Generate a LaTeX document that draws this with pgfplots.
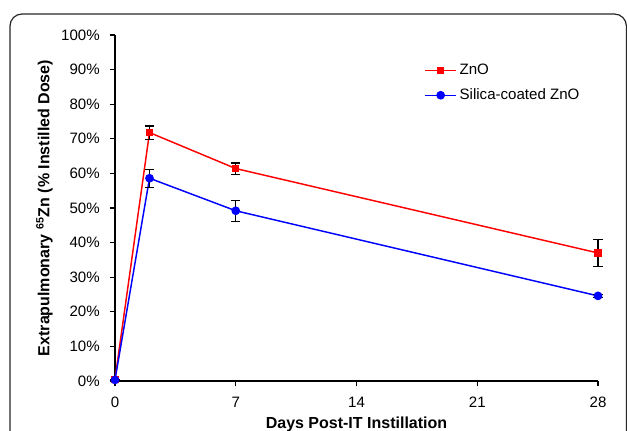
\documentclass[border=0pt]{standalone}
\usepackage{pgfplots}
\pgfplotsset{compat=1.18}
\usepackage{fontspec}
\setmainfont{Liberation Sans}
\begin{document}
\fontsize{11.3}{13.6}\selectfont
\begin{tikzpicture}
\useasboundingbox (0,0) rectangle (470.25pt,323.25pt);
\begin{scope}
\clip (0,0) rectangle (470.25pt,323.25pt);
\draw[line width=0.9pt, rounded corners=9pt, black!85] (7.5pt,-20pt) -- (7.5pt,312.75pt) -- (469.8pt,312.75pt) -- (469.8pt,-20pt);
\end{scope}
\begin{axis}[
  at={(86.25pt,37.5pt)}, anchor=south west,
  scale only axis, width=362.25pt, height=259.5pt,
  xmin=0, xmax=28, ymin=0, ymax=100,
  axis x line=bottom, axis y line=left,
  axis line style={-, line width=0.8pt},
  tick style={black, line width=0.8pt},
  tick align=outside, major tick length=4pt,
  xtick={0,7,14,21,28},
  ytick={0,10,20,30,40,50,60,70,80,90,100},
  yticklabels={0\%,10\%,20\%,30\%,40\%,50\%,60\%,70\%,80\%,90\%,100\%},
  /pgf/number format/assume math mode=true,
  ticklabel style={font=\fontsize{11.3}{13.6}\selectfont},
  xticklabel style={yshift=-4pt},
  yticklabel style={xshift=-3.5pt},
  clip=false,
  xlabel={\textbf{Days Post-IT Instillation}},
  ylabel={\textbf{Extrapulmonary \textsuperscript{65}Zn (\% Instilled Dose)}},
  label style={font=\fontsize{12}{14}\selectfont},
  xlabel style={at={(axis description cs:0.5,-0.126)}, anchor=center},
  ylabel style={at={(axis description cs:-0.146,0.5)}, anchor=center, rotate=0},
  legend style={draw=none, fill=none, at={(0.64,0.925)}, anchor=north west,
    font=\fontsize{11.3}{13.6}\selectfont, row sep=5pt, inner sep=0pt,
    legend cell align=left},
  legend image code/.code={\draw[mark repeat=2,mark phase=2] plot coordinates {(0cm,0cm) (0.41cm,0cm) (0.82cm,0cm)};},
  error bars/error bar style={black, line width=0.8pt},
  error bars/error mark options={black, rotate=90, mark size=3.4pt, line width=0.8pt},
]
\addplot[red, line width=1.1pt, mark=square*, mark size=2.1pt,
  error bars/.cd, y dir=both, y explicit]
  coordinates {(0,0.5) +- (0,0) (2,71.8) +- (0,1.9) (7,61.4) +- (0,1.6) (28,37.0) +- (0,3.8)};
\addlegendentry{ZnO}
\addplot[blue, line width=1.1pt, mark=*, mark size=2.7pt,
  error bars/.cd, y dir=both, y explicit]
  coordinates {(0,0.3) +- (0,0) (2,58.6) +- (0,2.6) (7,49.2) +- (0,3.0) (28,24.6) +- (0,0.5)};
\addlegendentry{Silica-coated ZnO}
\end{axis}
\end{tikzpicture}
\end{document}
